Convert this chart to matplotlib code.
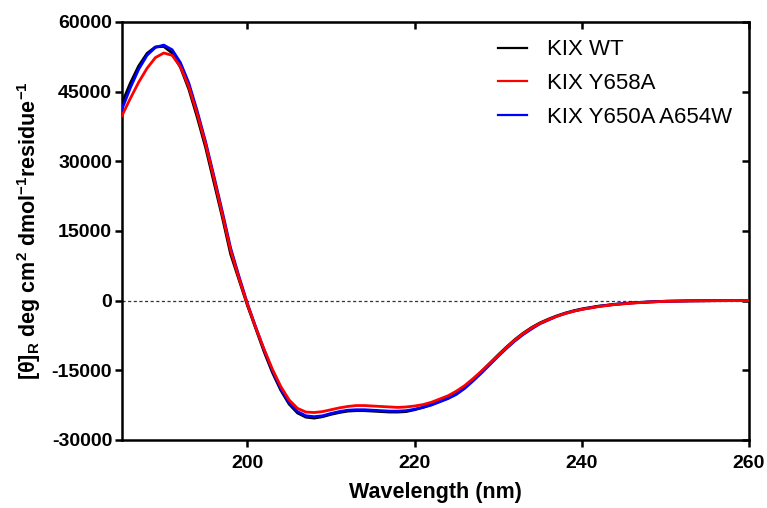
import matplotlib
matplotlib.use('Agg')
import matplotlib.pyplot as plt

wavelength = list(range(185, 241)) + [242, 244, 246, 248, 250, 253, 256, 260]

kix_wt = [42500, 46800, 50500, 53200, 54600, 54700, 53300, 50200, 45500, 39500,
          33000, 25500, 18000, 10000, 4500, -1000, -6000, -11000, -15500, -19300,
          -22300, -24200, -25100, -25300, -25000, -24500, -24100, -23800, -23700, -23700,
          -23800, -23900, -24000, -24000, -23900, -23500, -23000, -22400, -21700, -21000,
          -20000, -18700, -17000, -15300, -13500, -11700, -10000, -8400, -7000, -5800,
          -4800, -4000, -3300, -2700, -2200, -1800,
          -1200, -800, -500, -300, -150, -60, -20, 0]

kix_y658a = [39800, 43500, 47000, 50000, 52300, 53300, 52800, 50300, 46000, 40200,
             33700, 26300, 18600, 10800, 4800, -800, -5800, -10500, -14800, -18500,
             -21400, -23200, -24000, -24100, -23900, -23500, -23100, -22800, -22600, -22600,
             -22700, -22800, -22900, -23000, -22900, -22700, -22400, -21900, -21200, -20500,
             -19500, -18300, -16800, -15200, -13500, -11800, -10100, -8500, -7100, -5900,
             -4900, -4100, -3400, -2800, -2300, -1900,
             -1300, -850, -550, -330, -170, -70, -20, 0]

kix_y650a_a654w = [41200, 45800, 49800, 52800, 54500, 55000, 54000, 51200, 46800, 40800,
                   34200, 26800, 19200, 11300, 5200, -600, -5700, -10600, -15100, -19000,
                   -22000, -23900, -24800, -25000, -24800, -24300, -23900, -23600, -23500, -23500,
                   -23600, -23700, -23800, -23800, -23700, -23400, -23000, -22500, -21800, -21100,
                   -20200, -18900, -17300, -15600, -13800, -12000, -10300, -8700, -7300, -6100,
                   -5000, -4200, -3400, -2800, -2300, -1900,
                   -1250, -800, -500, -300, -150, -60, -20, 0]

x_ticks = [200, 220, 240, 260]
y_ticks = [-30000, -15000, 0, 15000, 30000, 45000, 60000]

plt.rcParams['font.family'] = ['Liberation Sans', 'DejaVu Sans']
plt.rcParams['mathtext.default'] = 'regular'
plt.rcParams['axes.unicode_minus'] = False

fig = plt.figure(figsize=(7.67, 5.08), dpi=100)
ax = fig.add_axes([0.159, 0.134, 0.8175, 0.823])

ax.axhline(0, color='#333333', lw=0.9, ls=(0, (2.5, 2)), zorder=1)
l1, = ax.plot(wavelength, kix_wt, color='black', lw=2, label='KIX WT', zorder=2)
l3, = ax.plot(wavelength, kix_y650a_a654w, color='blue', lw=2, label='KIX Y650A A654W', zorder=3)
l2, = ax.plot(wavelength, kix_y658a, color='red', lw=2, label='KIX Y658A', zorder=4)

ax.set_xlim(185, 260)
ax.set_ylim(-30000, 60000)
ax.set_xticks(x_ticks)
ax.set_yticks(y_ticks)

for s in ax.spines.values():
    s.set_linewidth(1.8)
ax.tick_params(direction='out', length=5, width=1.8, labelsize=14, pad=2)
ax.tick_params(axis='x', pad=6)
for lab in ax.get_xticklabels() + ax.get_yticklabels():
    lab.set_fontweight('bold')

top = ax.secondary_xaxis('top')
top.set_xticks(x_ticks)
top.tick_params(direction='in', length=5, width=1.8, labeltop=False)
right = ax.secondary_yaxis('right')
right.set_yticks(y_ticks)
right.tick_params(direction='in', length=5, width=1.8, labelright=False)

ax.set_xlabel('Wavelength (nm)', fontsize=15.5, fontweight='bold', labelpad=7)
ax.set_ylabel(r'[$\theta$]$_R$ deg cm$^2$ dmol$^{-1}$residue$^{-1}$',
              fontsize=15.5, fontweight='bold', labelpad=6)

leg = ax.legend(handles=[l1, l2, l3], loc='upper right', frameon=False, fontsize=16,
                handlelength=1.3, handletextpad=0.9, labelspacing=0.58,
                borderaxespad=0.2, bbox_to_anchor=(0.995, 0.99))
for h in leg.get_lines():
    h.set_linewidth(1.6)

fig.savefig('out.png', dpi=100)
